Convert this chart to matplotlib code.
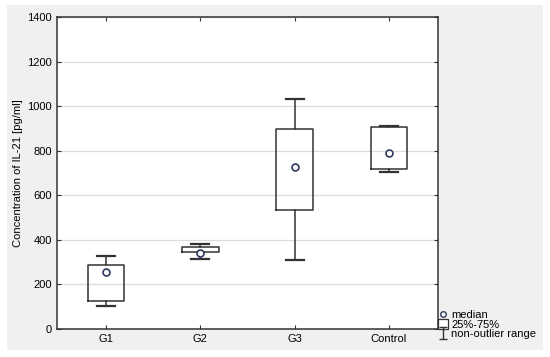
import matplotlib
matplotlib.use('Agg')
import matplotlib.pyplot as plt
from matplotlib.path import Path
from matplotlib.lines import Line2D
from matplotlib.patches import Rectangle

plt.rcParams['font.family'] = ['Liberation Sans', 'DejaVu Sans']

groups = ['G1', 'G2', 'G3', 'Control']
whislo = [102, 312, 311, 705]
q1 = [127, 345, 536, 720]
med = [257, 343, 728, 791]
q3 = [287, 368, 896, 906]
whishi = [326, 383, 1032, 910]

stats = []
for i in range(len(groups)):
    stats.append({'label': groups[i], 'whislo': whislo[i], 'q1': q1[i], 'med': med[i],
                  'q3': q3[i], 'whishi': whishi[i], 'fliers': []})

pos = [1, 2, 3, 4]
lc = '#333333'

fig = plt.figure(figsize=(5.5, 3.57), dpi=100, facecolor='white')
# gray panel behind the plot
fig.patches.append(Rectangle((7/550, 1-350/357), 536/550, 345/357, transform=fig.transFigure,
                             facecolor='#f0f0f0', edgecolor='none', zorder=-10))
ax = fig.add_axes([57/550, 1-329/357, 381/550, 312/357])
ax.set_facecolor('white')

ax.bxp(stats, positions=pos, widths=0.39, showfliers=False,
       boxprops=dict(color=lc, linewidth=1.1),
       whiskerprops=dict(color=lc, linewidth=1.1),
       capprops=dict(color=lc, linewidth=1.6),
       medianprops=dict(visible=False), capwidths=0.19)
ax.plot(pos, med, 'o', ms=5, mfc='white', mec='#2e3b5e', mew=1.2, zorder=5)

ax.set_xlim(0.48, 4.52)
ax.set_ylim(0, 1400)
ax.set_yticks(range(0, 1401, 200))
ax.grid(axis='y', color='#dcdcdc', linewidth=0.9)
ax.set_axisbelow(True)
ax.tick_params(direction='in', top=True, right=True, labelsize=8, length=3, color=lc)
for s in ax.spines.values():
    s.set_color(lc)
    s.set_linewidth(1.1)
ax.set_ylabel('Concentration of IL-21 [pg/ml]', fontsize=8, labelpad=3)

rng = Path([(-0.8, 1), (0.8, 1), (0, 1), (0, -1), (-0.8, -1), (0.8, -1)],
           [Path.MOVETO, Path.LINETO, Path.MOVETO, Path.LINETO, Path.MOVETO, Path.LINETO])
handles = [
    Line2D([], [], ls='none', marker='o', ms=4, mfc='white', mec='#2e3b5e', mew=1),
    Line2D([], [], ls='none', marker='s', ms=7, mfc='white', mec=lc, mew=0.9),
    Line2D([], [], ls='none', marker=rng, ms=8, mec=lc, mew=1),
]
fig.legend(handles, ['median', '25%-75%', 'non-outlier range'], loc='lower left',
           bbox_to_anchor=(439/550, 18/357), frameon=False, fontsize=8,
           handlelength=0.8, handletextpad=0.3, labelspacing=-0.05, borderpad=0,
           borderaxespad=0)

fig.savefig('out.png', dpi=100, facecolor=fig.get_facecolor())
